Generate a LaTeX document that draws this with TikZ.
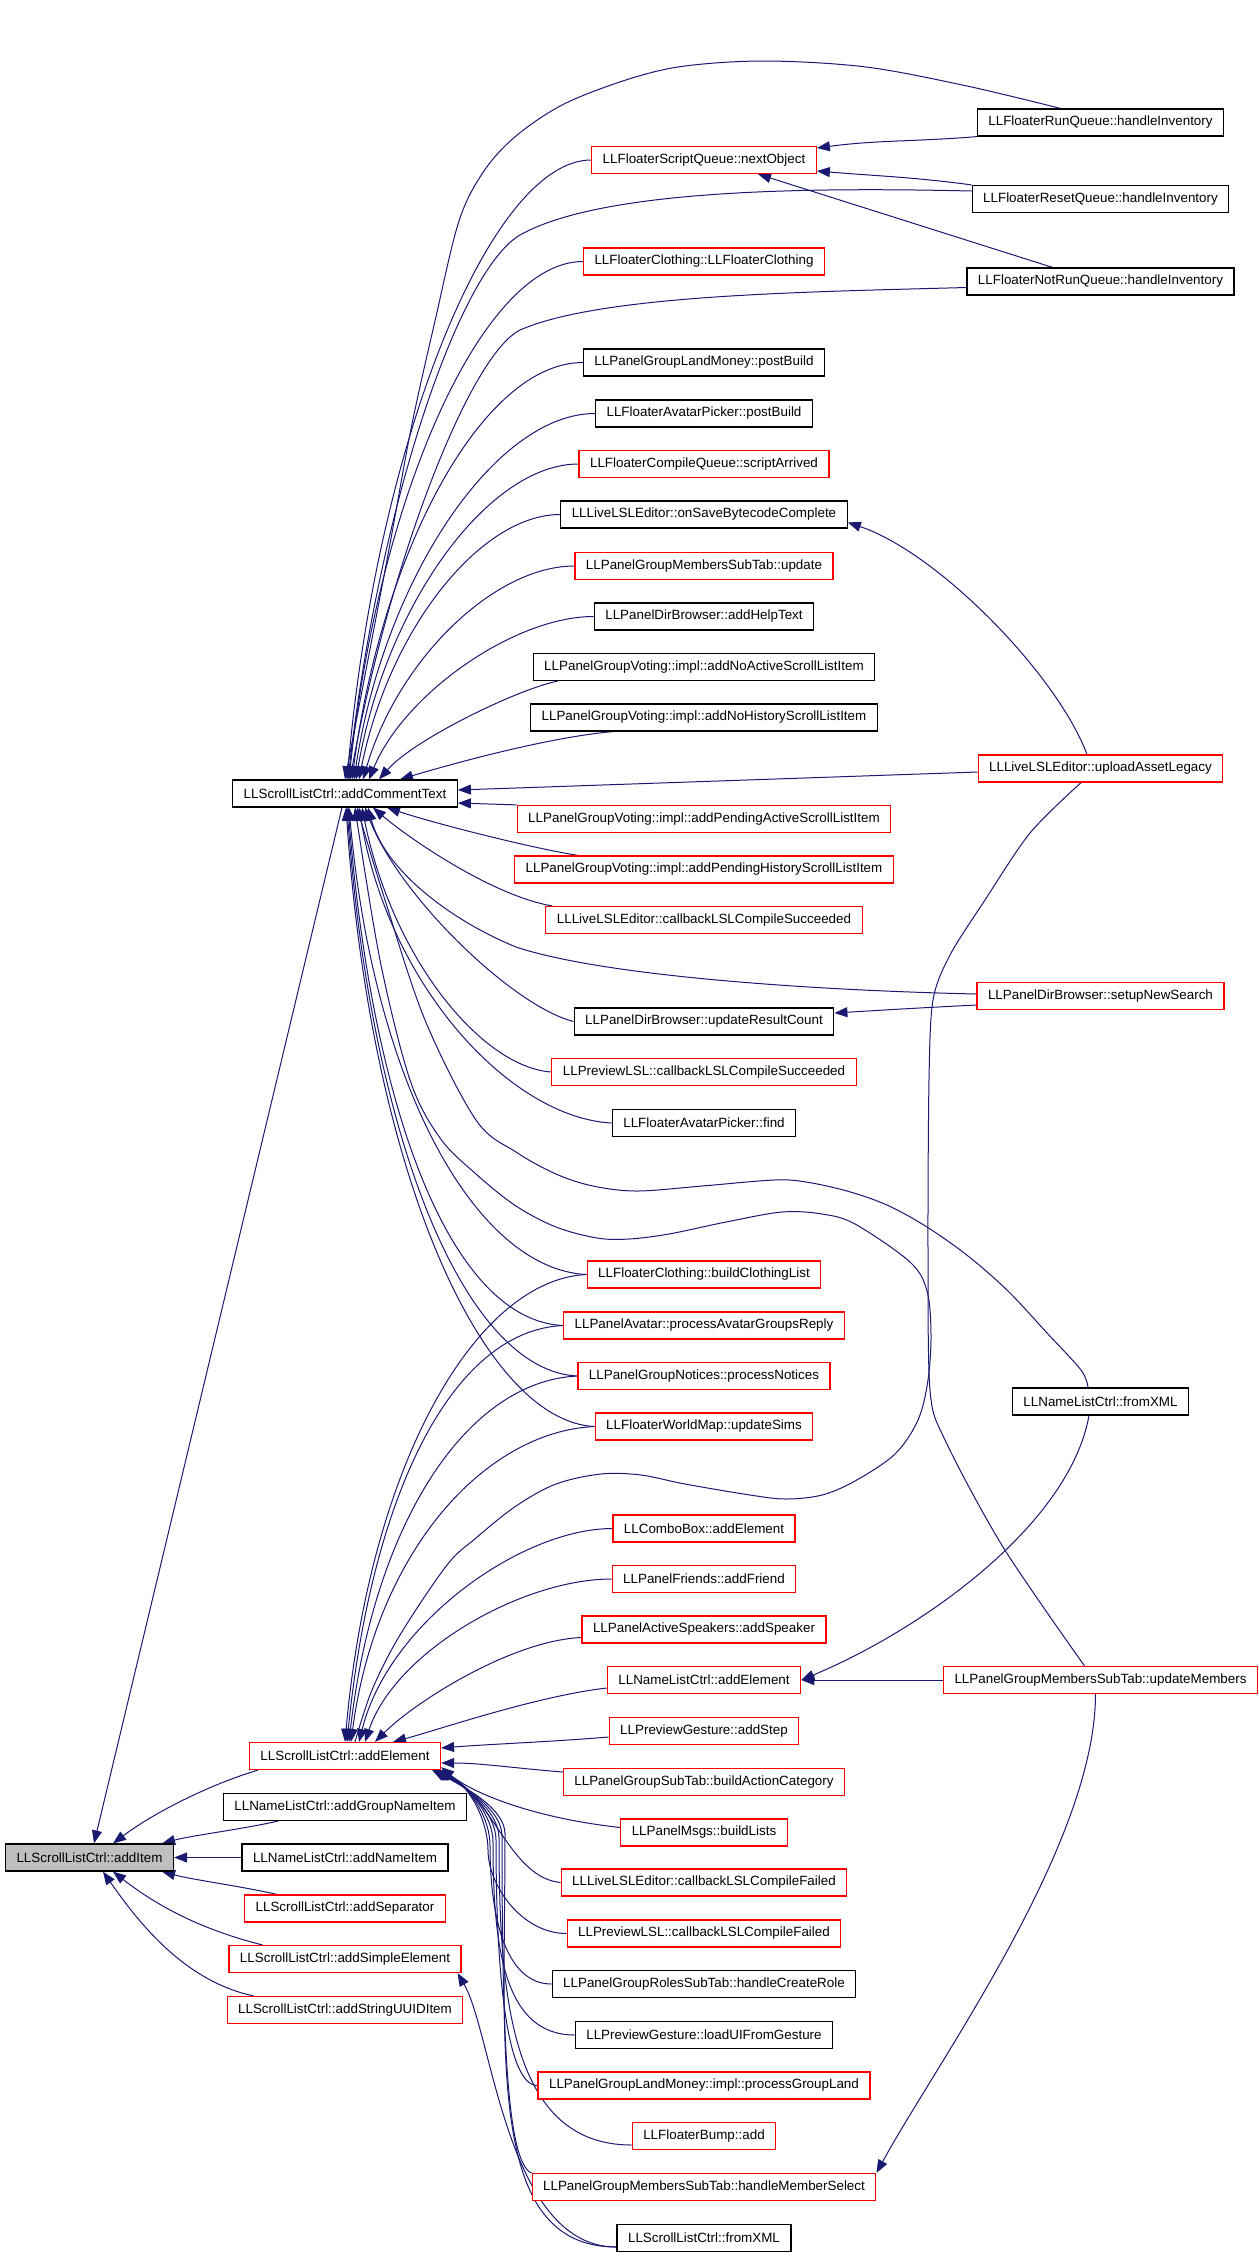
\documentclass[tikz,border=0pt]{standalone}
\usepackage{fontspec}
\usepackage{tikz}
\usetikzlibrary{arrows.meta, positioning, backgrounds}
\newfontfamily\dotfont{Liberation Sans}
\definecolor{edgeblue}{RGB}{25,25,112}
\definecolor{callred}{RGB}{255,0,0}
\definecolor{rootgray}{RGB}{191,191,191}

\begin{document}
\begin{tikzpicture}[
    x=0.5pt, y=-0.5pt,
    fn_box/.style={draw=black, fill=white, line width=0.6pt, minimum height=13.5pt, inner xsep=5.5pt, inner ysep=0pt, font=\dotfont\fontsize{6.7}{8}\selectfont},
    fn_red/.style={fn_box, draw=callred},
    fn_root/.style={fn_box, fill=rootgray},
    call/.style={-{Triangle[length=6.5pt, width=5pt]}, draw=edgeblue, line width=0.5pt},
    link/.style={draw=edgeblue, line width=0.5pt}
]
    \useasboundingbox (0,0) rectangle (1259,2256);

    % Root function
    \node[fn_root] (add_item) at (89.5,1857.5) {LLScrollListCtrl::addItem};

    % Direct callers of addItem
    \node[fn_box] (add_comment) at (345,793.5) {LLScrollListCtrl::addCommentText};
    \node[fn_red] (add_element) at (345,1756) {LLScrollListCtrl::addElement};
    \node[fn_box] (add_group_name) at (345,1807) {LLNameListCtrl::addGroupNameItem};
    \node[fn_box] (add_name) at (345,1857.5) {LLNameListCtrl::addNameItem};
    \node[fn_red] (add_separator) at (345,1908.5) {LLScrollListCtrl::addSeparator};
    \node[fn_red] (add_simple) at (345,1959) {LLScrollListCtrl::addSimpleElement};
    \node[fn_red] (add_uuid) at (345,2010) {LLScrollListCtrl::addStringUUIDItem};

    % Second level callers
    \node[fn_red] (next_object) at (704,160) {LLFloaterScriptQueue::nextObject};
    \node[fn_red] (clothing_ctor) at (704,261.5) {LLFloaterClothing::LLFloaterClothing};
    \node[fn_box] (land_postbuild) at (704,362.5) {LLPanelGroupLandMoney::postBuild};
    \node[fn_box] (picker_postbuild) at (704,413.5) {LLFloaterAvatarPicker::postBuild};
    \node[fn_red] (script_arrived) at (704,464) {LLFloaterCompileQueue::scriptArrived};
    \node[fn_box] (save_bytecode) at (704,514.5) {LLLiveLSLEditor::onSaveBytecodeComplete};
    \node[fn_red] (members_update) at (704,566) {LLPanelGroupMembersSubTab::update};
    \node[fn_box] (help_text) at (704,616.5) {LLPanelDirBrowser::addHelpText};
    \node[fn_box] (no_active) at (704,667) {LLPanelGroupVoting::impl::addNoActiveScrollListItem};
    \node[fn_box] (no_history) at (704,717.5) {LLPanelGroupVoting::impl::addNoHistoryScrollListItem};
    \node[fn_red] (pending_active) at (704,819) {LLPanelGroupVoting::impl::addPendingActiveScrollListItem};
    \node[fn_red] (pending_history) at (704,869.5) {LLPanelGroupVoting::impl::addPendingHistoryScrollListItem};
    \node[fn_red] (live_succeeded) at (704,920) {LLLiveLSLEditor::callbackLSLCompileSucceeded};
    \node[fn_box] (result_count) at (704,1021.5) {LLPanelDirBrowser::updateResultCount};
    \node[fn_red] (lsl_succeeded) at (704,1072) {LLPreviewLSL::callbackLSLCompileSucceeded};
    \node[fn_box] (picker_find) at (704,1123) {LLFloaterAvatarPicker::find};
    \node[fn_red] (clothing_list) at (704,1274.5) {LLFloaterClothing::buildClothingList};
    \node[fn_red] (avatar_groups) at (704,1325.5) {LLPanelAvatar::processAvatarGroupsReply};
    \node[fn_red] (group_notices) at (704,1376) {LLPanelGroupNotices::processNotices};
    \node[fn_red] (update_sims) at (704,1426.5) {LLFloaterWorldMap::updateSims};
    \node[fn_red] (combo_add) at (704,1528.5) {LLComboBox::addElement};
    \node[fn_red] (add_friend) at (704,1579) {LLPanelFriends::addFriend};
    \node[fn_red] (add_speaker) at (704,1629.5) {LLPanelActiveSpeakers::addSpeaker};
    \node[fn_red] (name_add_element) at (704,1680) {LLNameListCtrl::addElement};
    \node[fn_red] (add_step) at (704,1731) {LLPreviewGesture::addStep};
    \node[fn_red] (action_category) at (704,1782) {LLPanelGroupSubTab::buildActionCategory};
    \node[fn_red] (build_lists) at (704,1832.5) {LLPanelMsgs::buildLists};
    \node[fn_red] (live_failed) at (704,1882.5) {LLLiveLSLEditor::callbackLSLCompileFailed};
    \node[fn_red] (lsl_failed) at (704,1933.5) {LLPreviewLSL::callbackLSLCompileFailed};
    \node[fn_box] (create_role) at (704,1984) {LLPanelGroupRolesSubTab::handleCreateRole};
    \node[fn_box] (load_gesture) at (704,2035) {LLPreviewGesture::loadUIFromGesture};
    \node[fn_red] (group_land) at (704,2085.5) {LLPanelGroupLandMoney::impl::processGroupLand};
    \node[fn_red] (bump_add) at (704,2136) {LLFloaterBump::add};
    \node[fn_red] (member_select) at (704,2187) {LLPanelGroupMembersSubTab::handleMemberSelect};
    \node[fn_box] (scroll_fromxml) at (704,2238) {LLScrollListCtrl::fromXML};

    % Third level callers
    \node[fn_box] (run_inv) at (1100.5,122.5) {LLFloaterRunQueue::handleInventory};
    \node[fn_box] (reset_inv) at (1100.5,199) {LLFloaterResetQueue::handleInventory};
    \node[fn_box] (notrun_inv) at (1100.5,281.5) {LLFloaterNotRunQueue::handleInventory};
    \node[fn_red] (upload_legacy) at (1100.5,768.5) {LLLiveLSLEditor::uploadAssetLegacy};
    \node[fn_red] (new_search) at (1100.5,996) {LLPanelDirBrowser::setupNewSearch};
    \node[fn_box] (name_fromxml) at (1100.5,1401.5) {LLNameListCtrl::fromXML};
    \node[fn_red] (update_members) at (1100.5,1680) {LLPanelGroupMembersSubTab::updateMembers};

    \begin{scope}[on background layer]
    % Calls into addItem
    \draw[call] ([xshift=-1.5pt]add_comment.south) -- ([xshift=2.25pt]add_item.north);
    \draw[call] ([xshift=4.5pt]add_element.south west) .. controls +(-50,15) and +(40,-30) .. ([xshift=11.75pt]add_item.north);
    \draw[call] ([xshift=27.5pt]add_group_name.south west) .. controls +(-35,8) and +(30,-8) .. ([xshift=-6pt]add_item.north east);
    \draw[call] (add_name.west) -- (add_item.east);
    \draw[call] ([xshift=16.5pt]add_separator.north west) .. controls +(-35,-8) and +(30,8) .. ([xshift=-6pt]add_item.south east);
    \draw[call] ([xshift=17pt]add_simple.north west) .. controls +(-60,-15) and +(45,35) .. ([xshift=11.75pt]add_item.south);
    \draw[call] ([xshift=13.5pt]add_uuid.north west) .. controls +(-70,-15) and +(35,50) .. ([xshift=6.75pt]add_item.south);

    % Calls into addCommentText from above
    \draw[call] plot[smooth, tension=0.55] coordinates {([xshift=-20pt]run_inv.north) (967,86) (866,67) (766,61) (685,66) (629,79) (564,104) (516,136) (484,171) (459,221) (435,321) (411,429) (387,560) (add_comment.north)};
    \draw[call] (next_object.west) .. controls +(-100,0) and +(30,-340) .. ([xshift=1pt]add_comment.north);
    \draw[call] ([yshift=4pt]reset_inv.west) .. controls (800,187) and (600,190) .. (520,235) .. controls (460,270) and (380,500) .. ([xshift=1.5pt]add_comment.north);
    \draw[call] (clothing_ctor.west) .. controls +(-100,0) and +(30,-285) .. ([xshift=2pt]add_comment.north);
    \draw[call] ([yshift=-3pt]notrun_inv.west) .. controls (800,292) and (600,295) .. (520,330) .. controls (470,355) and (390,560) .. ([xshift=2.5pt]add_comment.north);
    \draw[call] (land_postbuild.west) .. controls +(-100,0) and +(30,-230) .. ([xshift=3.5pt]add_comment.north);
    \draw[call] (picker_postbuild.west) .. controls +(-100,0) and +(30,-200) .. ([xshift=4.5pt]add_comment.north);
    \draw[call] (script_arrived.west) .. controls +(-90,0) and +(30,-175) .. ([xshift=5.5pt]add_comment.north);
    \draw[call] (save_bytecode.west) .. controls +(-80,0) and +(30,-150) .. ([xshift=7pt]add_comment.north);
    \draw[call] (members_update.west) .. controls +(-80,0) and +(35,-120) .. ([xshift=9pt]add_comment.north);
    \draw[call] (help_text.west) .. controls +(-80,0) and +(35,-85) .. ([xshift=12pt]add_comment.north);
    \draw[call] ([xshift=12.5pt]no_active.south west) .. controls +(-40,8) and +(35,-40) .. ([xshift=17pt]add_comment.north);
    \draw[call] ([xshift=41.5pt]no_history.south west) .. controls +(-60,5) and +(60,-18) .. ([xshift=27.5pt]add_comment.north);

    % Calls into addCommentText from the side
    \draw[call] ([yshift=-1.75pt]upload_legacy.west) -- ([yshift=1.75pt]add_comment.east);
    \draw[call] (pending_active.north west) -- ([yshift=-4.75pt]add_comment.east);

    % Calls into addCommentText from below
    \draw[call] ([xshift=32pt]pending_history.north west) .. controls +(-50,-8) and +(45,15) .. ([xshift=21pt]add_comment.south);
    \draw[call] ([xshift=3.5pt]live_succeeded.north west) .. controls +(-60,-10) and +(35,30) .. ([xshift=14pt]add_comment.south);
    \draw[call] ([yshift=1pt]new_search.west) .. controls (800,990) and (600,975) .. (516,947) .. controls (450,920) and (385,870) .. ([xshift=11.5pt]add_comment.south);
    \draw[call] (result_count.west) .. controls +(-60,-15) and +(35,90) .. ([xshift=10pt]add_comment.south);
    \draw[call] (lsl_succeeded.west) .. controls +(-70,-5) and +(30,150) .. ([xshift=8.5pt]add_comment.south);
    \draw[call] (picker_find.west) .. controls +(-100,-5) and +(30,180) .. ([xshift=7pt]add_comment.south);
    \draw[call] plot[smooth, tension=0.55] coordinates {([xshift=-6.25pt]name_fromxml.north) (1081,1370) (1048,1334) (1008,1291) (968,1256) (927,1227) (887,1205) (847,1191) (806,1182) (774,1180) (702,1186) (637,1191) (593,1186) (556,1174) (516,1152) (476,1120) (425,1020) (385,900) ([xshift=6pt]add_comment.south)};
    \draw[call] plot[smooth, tension=0.55] coordinates {([xshift=5pt]add_element.north) (372,1690) (400,1635) (447,1565) (476,1538) (516,1506) (556,1484) (601,1474) (641,1475) (685,1484) (750,1495) (786,1499) (822,1495) (855,1481) (895,1454) (918,1420) (928,1380) (931,1334) (927,1291) (910,1262) (855,1224) (822,1214) (782,1212) (726,1222) (669,1234) (629,1239) (597,1238) (556,1227) (516,1206) (476,1174) (440,1138) (410,1080) (380,960) ([xshift=5pt]add_comment.south)};
    \draw[call] (clothing_list.west) .. controls +(-110,-5) and +(25,280) .. ([xshift=2pt]add_comment.south);
    \draw[call] (avatar_groups.west) .. controls +(-110,-5) and +(25,310) .. ([xshift=1.5pt]add_comment.south);
    \draw[call] (group_notices.west) .. controls +(-110,-5) and +(25,340) .. ([xshift=1pt]add_comment.south);
    \draw[call] (update_sims.west) .. controls +(-110,-5) and +(25,372) .. ([xshift=0.5pt]add_comment.south);

    % Calls into addElement from above
    \draw[call] (clothing_list.west) .. controls +(-110,5) and +(25,-280) .. (add_element.north);
    \draw[call] (avatar_groups.west) .. controls +(-110,5) and +(25,-250) .. ([xshift=1pt]add_element.north);
    \draw[call] (group_notices.west) .. controls +(-110,5) and +(25,-220) .. ([xshift=2pt]add_element.north);
    \draw[call] (update_sims.west) .. controls +(-110,5) and +(25,-190) .. ([xshift=3pt]add_element.north);
    \draw[call] (combo_add.west) .. controls +(-90,0) and +(30,-120) .. ([xshift=7pt]add_element.north);
    \draw[call] (add_friend.west) .. controls +(-90,0) and +(30,-90) .. ([xshift=10pt]add_element.north);
    \draw[call] ([yshift=-4pt]add_speaker.west) .. controls +(-70,3) and +(40,-40) .. ([xshift=15pt]add_element.north);
    \draw[call] ([yshift=-4pt]name_add_element.west) .. controls +(-70,8) and +(45,-12) .. ([xshift=24pt]add_element.north);

    % Calls into addElement from the side and from below
    \draw[call] ([yshift=-3pt]add_step.west) .. controls +(-60,5) and +(50,-4) .. ([yshift=4pt]add_element.east);
    \draw[call] ([yshift=5pt]action_category.west) .. controls +(-50,-4) and +(40,0) .. ([yshift=-3.5pt]add_element.east);
    \draw[call] ([yshift=2.5pt]build_lists.west) .. controls +(-90,-10) and +(30,25) .. ([yshift=1.5pt]add_element.south east);
    \draw[call] (live_failed.west) .. controls +(-50,-5) and +(55,30) .. ([xshift=-1pt]add_element.south east);
    \draw[call] (lsl_failed.west) .. controls +(-45,0) and (488,1885) .. (488,1850) .. controls (488,1825) and +(35,18) .. ([xshift=-1.5pt]add_element.south east);
    \draw[call] (create_role.west) .. controls +(-45,0) and (490,1920) .. (490,1845) .. controls (490,1820) and +(35,18) .. ([xshift=-2pt]add_element.south east);
    \draw[call] (load_gesture.west) .. controls +(-70,0) and (493,1950) .. (493,1842) .. controls (493,1817) and +(35,18) .. ([xshift=-2.5pt]add_element.south east);
    \draw[call] (group_land.west) .. controls +(-30,0) and (496,1980) .. (496,1840) .. controls (496,1815) and +(35,18) .. ([xshift=-3pt]add_element.south east);
    \draw[call] ([yshift=-4.5pt]bump_add.west) .. controls +(-120,0) and (499,2000) .. (499,1838) .. controls (499,1813) and +(35,18) .. ([xshift=-3.5pt]add_element.south east);
    \draw[call] (member_select.north west) .. controls +(-25,-10) and (502,2030) .. (502,1836) .. controls (502,1811) and +(35,18) .. ([xshift=-4pt]add_element.south east);
    \draw[call] ([yshift=-4.5pt]scroll_fromxml.west) .. controls +(-130,0) and (505,2060) .. (505,1834) .. controls (505,1809) and +(35,18) .. ([xshift=-4.5pt]add_element.south east);
    \draw[call] ([yshift=-4.5pt]scroll_fromxml.west) .. controls +(-110,0) and +(35,60) .. ([xshift=-2pt]add_simple.south east);

    % Calls between the outer levels
    \draw[call] (run_inv.south west) .. controls +(-60,5) and +(60,-8) .. ([yshift=6pt]next_object.east);
    \draw[call] (reset_inv.north west) .. controls +(-60,-8) and +(60,5) .. ([yshift=-5.5pt]next_object.east);
    \draw[call] ([xshift=-24pt]notrun_inv.north) -- ([xshift=27pt]next_object.south);
    \draw[call] ([xshift=-6.75pt]upload_legacy.north) .. controls +(-30,-80) and +(90,30) .. ([yshift=-4pt]save_bytecode.east);
    \draw[link] plot[smooth, tension=0.5] coordinates {([xshift=-8pt]update_members.north) (1003,1547) (945,1440) (930,1390) (928,1250) (929,1080) (933,1000) (950,955) (985,900) (1030,833) ([xshift=-9.75pt]upload_legacy.south)};
    \draw[call] ([yshift=-4.5pt]new_search.west) .. controls +(-60,3) and +(50,-3) .. ([yshift=4.25pt]result_count.east);
    \draw[call] ([xshift=-5.75pt]name_fromxml.south) .. controls +(-20,110) and +(120,-50) .. (name_add_element.east);
    \draw[call] (update_members.west) -- (name_add_element.east);
    \draw[call] ([xshift=-2.5pt]update_members.south) .. controls +(0,150) and +(60,-110) .. (member_select.north east);
    \end{scope}

\end{tikzpicture}
\end{document}
